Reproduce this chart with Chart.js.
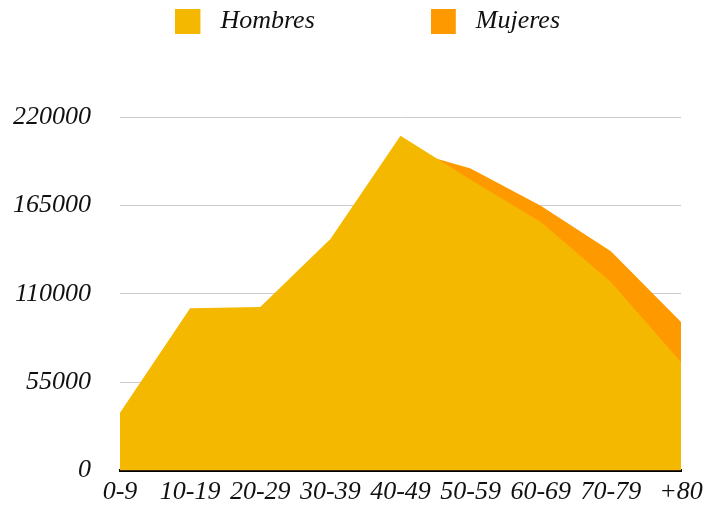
<!DOCTYPE html>
<html>
<head>
<meta charset="utf-8">
<script src="https://cdn.jsdelivr.net/npm/chart.js@4/dist/chart.umd.min.js"></script>
<style>
  html, body { margin: 0; padding: 0; background: #fff; }
  canvas { display: block; }
</style>
</head>
<body>
<canvas id="chart" width="715" height="506"></canvas>
<script>
// Población por grupo de edad
const ageGroups = ['0-9', '10-19', '20-29', '30-39', '40-49', '50-59', '60-69', '70-79', '+80'];
const hombres = [35900, 100900, 101700, 144000, 208400, 181000, 154600, 117300, 67400];
const mujeres = [33500, 96500, 98000, 139500, 200500, 187900, 164800, 136400, 92400];
const yTicks = [0, 55000, 110000, 165000, 220000];

const colorHombres = '#F5B800';
const colorMujeres = '#FF9900';
const legendGap = 116;

// cuadrito de la leyenda con hueco a la derecha
function legendBox(color) {
  const c = document.createElement('canvas');
  c.width = 32;
  c.height = 25;
  const g = c.getContext('2d');
  g.fillStyle = color;
  g.fillRect(0, 0, 25, 25);
  return c;
}

const serif = { family: '"Liberation Serif", "Times New Roman", serif', style: 'italic', size: 26 };

// coloca la leyenda (el padding grande es solo para separar los items)
const legendShift = {
  id: 'legendShift',
  afterLayout(chart) {
    const lg = chart.legend;
    lg.top = 8.5 - legendGap;
    lg.left = 735.4 - lg.right;
  }
};

new Chart(document.getElementById('chart'), {
  type: 'line',
  data: {
    labels: ageGroups,
    datasets: [{
      label: 'Hombres',
      data: hombres,
      backgroundColor: colorHombres,
      borderColor: colorHombres,
      borderWidth: 0,
      fill: 'origin',
      pointRadius: 0,
      pointHoverRadius: 0,
      pointStyle: legendBox(colorHombres),
      tension: 0
    }, {
      label: 'Mujeres',
      data: mujeres,
      backgroundColor: colorMujeres,
      borderColor: colorMujeres,
      borderWidth: 0,
      fill: 'origin',
      pointRadius: 0,
      pointHoverRadius: 0,
      pointStyle: legendBox(colorMujeres),
      tension: 0
    }]
  },
  options: {
    responsive: false,
    animation: false,
    events: [],
    devicePixelRatio: 1,
    layout: {
      padding: { left: 0, right: 34, top: 0, bottom: 0 }
    },
    plugins: {
      legend: {
        position: 'top',
        maxHeight: 117,
        labels: {
          usePointStyle: true,
          pointStyleWidth: 32,
          padding: legendGap,
          color: '#111',
          font: serif
        }
      },
      tooltip: { enabled: false }
    },
    scales: {
      x: {
        afterFit(scale) { scale.height = 35.5; },
        grid: { display: false, drawTicks: false },
        border: { display: true, color: '#000', width: 3 },
        ticks: {
          color: '#111',
          font: serif,
          padding: 6,
          maxRotation: 0,
          autoSkip: false
        }
      },
      y: {
        min: 0,
        max: 220000,
        afterFit(scale) {
          scale.width = 120;
          // sin margen extra arriba/abajo por las etiquetas
          scale.paddingTop = 0;
          scale.paddingBottom = 0;
        },
        afterBuildTicks(scale) { scale.ticks = yTicks.map(v => ({ value: v })); },
        grid: { color: '#cccccc', lineWidth: 1, drawTicks: false },
        border: { display: false },
        ticks: {
          color: '#111',
          font: serif,
          padding: 29,
          callback: v => String(v)
        }
      }
    }
  },
  plugins: [legendShift]
});
</script>
</body>
</html>
